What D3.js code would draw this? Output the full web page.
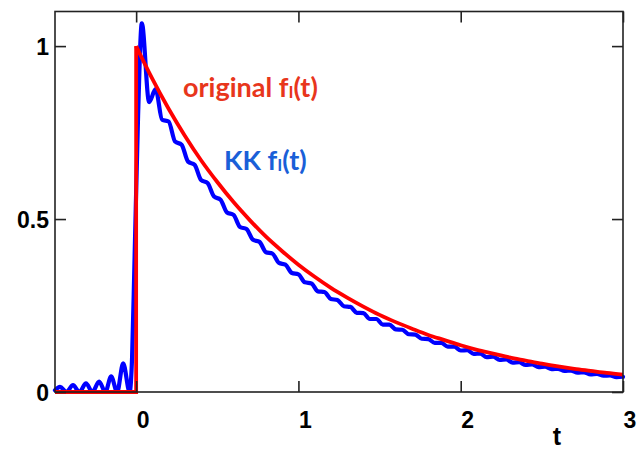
<!DOCTYPE html>
<html>
<head>
<meta charset="utf-8">
<script src="https://cdn.jsdelivr.net/npm/d3@7"></script>
<style>
html,body{margin:0;padding:0;background:#fff;}
svg{display:block;}
</style>
</head>
<body>
<svg id="chart" width="637" height="450"></svg>
<script>
// ---- data ----
const xTicks = [0, 1, 2, 3];
const xTickLabels = ["0", "1", "2", "3"];
const yTicks = [0, 0.5, 1];
const yTickLabels = ["0", "0.5", "1"];

// original f_I(t): zero before t=0, jump to 1, then decay
const redStepT = [-0.5, 0, 0];
const redStepV = [0, 0, 1];
const redT = [0, 0.1, 0.2, 0.3, 0.4, 0.5, 0.6, 0.7, 0.8, 0.9, 1.0, 1.1, 1.2, 1.3, 1.4, 1.5, 1.6, 1.7, 1.8, 1.9, 2.0, 2.1, 2.2, 2.3, 2.4, 2.5, 2.6, 2.7, 2.8, 2.9, 3.0];
const redV = [1.0, 0.905, 0.819, 0.741, 0.670, 0.607, 0.549, 0.497, 0.449, 0.407, 0.368, 0.333, 0.301, 0.273, 0.247, 0.223, 0.202, 0.183, 0.165, 0.150, 0.135, 0.122, 0.111, 0.100, 0.091, 0.082, 0.074, 0.067, 0.061, 0.055, 0.050];

// KK f_I(t): reconstructed curve with ripples
const blueT = [-0.5, -0.469, -0.43, -0.389, -0.35, -0.309, -0.27, -0.228, -0.19, -0.154, -0.117, -0.08, -0.04,
  -0.025, -0.01, 0.012, 0.035, 0.08, 0.12,
  0.16, 0.20, 0.24, 0.28, 0.32, 0.36, 0.40, 0.44, 0.48, 0.52, 0.56, 0.60, 0.64, 0.68, 0.72, 0.76, 0.80, 0.84, 0.88, 0.92, 0.96, 1.00,
  1.04, 1.08, 1.12, 1.16, 1.20, 1.24, 1.28, 1.32, 1.36, 1.40, 1.44, 1.48, 1.52, 1.56, 1.60, 1.64, 1.68, 1.72, 1.76, 1.80, 1.84, 1.88, 1.92, 1.96, 2.00,
  2.04, 2.08, 2.12, 2.16, 2.20, 2.24, 2.28, 2.32, 2.36, 2.40, 2.44, 2.48, 2.52, 2.56, 2.60, 2.64, 2.68, 2.72, 2.76, 2.80, 2.84, 2.88, 2.92, 2.96, 3.00];
const blueV = [0.005, 0.015, 0.0, 0.02, 0.0, 0.025, 0.0, 0.03, 0.0, 0.045, 0.0, 0.083, 0.0,
  0.10, 0.38, 0.80, 1.066, 0.838, 0.876,
  0.787, 0.782, 0.724, 0.715, 0.666, 0.657, 0.613, 0.604, 0.565, 0.556, 0.519, 0.512, 0.477, 0.471, 0.440, 0.434, 0.404, 0.400, 0.373, 0.368, 0.344, 0.340,
  0.317, 0.314, 0.291, 0.289, 0.269, 0.266, 0.248, 0.246, 0.229, 0.228, 0.211, 0.211, 0.195, 0.195, 0.181, 0.180, 0.167, 0.166, 0.154, 0.153, 0.142, 0.142, 0.131, 0.131, 0.120,
  0.121, 0.110, 0.111, 0.101, 0.102, 0.093, 0.094, 0.085, 0.086, 0.078, 0.080, 0.072, 0.073, 0.066, 0.067, 0.061, 0.062, 0.056, 0.057, 0.051, 0.052, 0.047, 0.048, 0.043, 0.044];

// ---- drawing ----
const svg = d3.select("#chart");
const pLeft = 55, pRight = 623, pTop = 11.5, pBottom = 392;
const x = d3.scaleLinear().domain([-0.5, 3]).range([pLeft, pRight]);
const y = d3.scaleLinear().domain([0, 1.1]).range([pBottom, pTop]);

const axisColor = "#222";
const tickLen = 11;

// curves
const lineLin = d3.line().x(d => x(d[0])).y(d => y(d[1])).curve(d3.curveLinear);
const lineSmooth = d3.line().x(d => x(d[0])).y(d => y(d[1])).curve(d3.curveMonotoneX);

const redStep = redStepT.map((t, i) => [t, redStepV[i]]);
const redDecay = redT.map((t, i) => [t, redV[i]]);
const blue = blueT.map((t, i) => [t, blueV[i]]);

svg.append("path").attr("d", lineSmooth(blue))
  .attr("fill", "none").attr("stroke", "#0000ff").attr("stroke-width", 4.2)
  .attr("stroke-linejoin", "round").attr("stroke-linecap", "round");
svg.append("path").attr("d", lineLin(redStep))
  .attr("fill", "none").attr("stroke", "#ff0000").attr("stroke-width", 3.8)
  .attr("stroke-linejoin", "miter");
svg.append("path").attr("d", lineSmooth(redDecay))
  .attr("fill", "none").attr("stroke", "#ff0000").attr("stroke-width", 3.8)
  .attr("stroke-linejoin", "round");

// frame
svg.append("rect").attr("x", pLeft).attr("y", pTop).attr("width", pRight - pLeft).attr("height", pBottom - pTop)
  .attr("fill", "none").attr("stroke", axisColor).attr("stroke-width", 1.6);

// axes with inward ticks
const xAxisB = d3.axisBottom(x).tickValues(xTicks).tickSize(-tickLen).tickFormat("");
const xAxisT = d3.axisTop(x).tickValues(xTicks).tickSize(-tickLen).tickFormat("");
const yAxisL = d3.axisLeft(y).tickValues(yTicks).tickSize(-tickLen).tickFormat("");
const yAxisR = d3.axisRight(y).tickValues(yTicks).tickSize(-tickLen).tickFormat("");
[[xAxisB, `translate(0,${pBottom})`], [xAxisT, `translate(0,${pTop})`], [yAxisL, `translate(${pLeft},0)`], [yAxisR, `translate(${pRight},0)`]]
  .forEach(([ax, tr]) => {
    const g = svg.append("g").attr("transform", tr).call(ax);
    g.select(".domain").remove();
    g.selectAll(".tick line").attr("stroke", axisColor).attr("stroke-width", 1.6);
  });

// tick labels
const labelFont = "'Liberation Sans', Arial, Helvetica, sans-serif";
svg.append("g").selectAll("text").data(xTicks).join("text")
  .attr("x", d => x(d) + 7).attr("y", 428)
  .attr("text-anchor", "middle")
  .attr("font-family", labelFont).attr("font-weight", "bold").attr("font-size", 23)
  .attr("fill", "#000")
  .text((d, i) => xTickLabels[i]);
svg.append("g").selectAll("text").data(yTicks).join("text")
  .attr("x", 49).attr("y", d => y(d) + 8.5)
  .attr("text-anchor", "end")
  .attr("font-family", labelFont).attr("font-weight", "bold").attr("font-size", 23)
  .attr("fill", "#000")
  .text((d, i) => yTickLabels[i]);

// axis title
svg.append("text").attr("x", 557).attr("y", 445).attr("text-anchor", "middle")
  .attr("font-family", labelFont).attr("font-weight", "bold").attr("font-size", 25)
  .attr("fill", "#000").text("t");

// annotations
const annFont = "Lato, 'Open Sans', sans-serif";
function annot(xp, yp, pre, color) {
  const t = svg.append("text").attr("x", xp).attr("y", yp)
    .attr("font-family", annFont).attr("font-weight", "bold").attr("font-size", 27)
    .attr("fill", color);
  t.append("tspan").text(pre + "f");
  t.append("tspan").attr("font-size", 17).attr("dy", 1).text("I");
  t.append("tspan").attr("dy", -1).text("(t)");
}
annot(183, 97, "original ", "#e8361c");
annot(224, 170, "KK ", "#1a5fd8");
</script>
</body>
</html>
